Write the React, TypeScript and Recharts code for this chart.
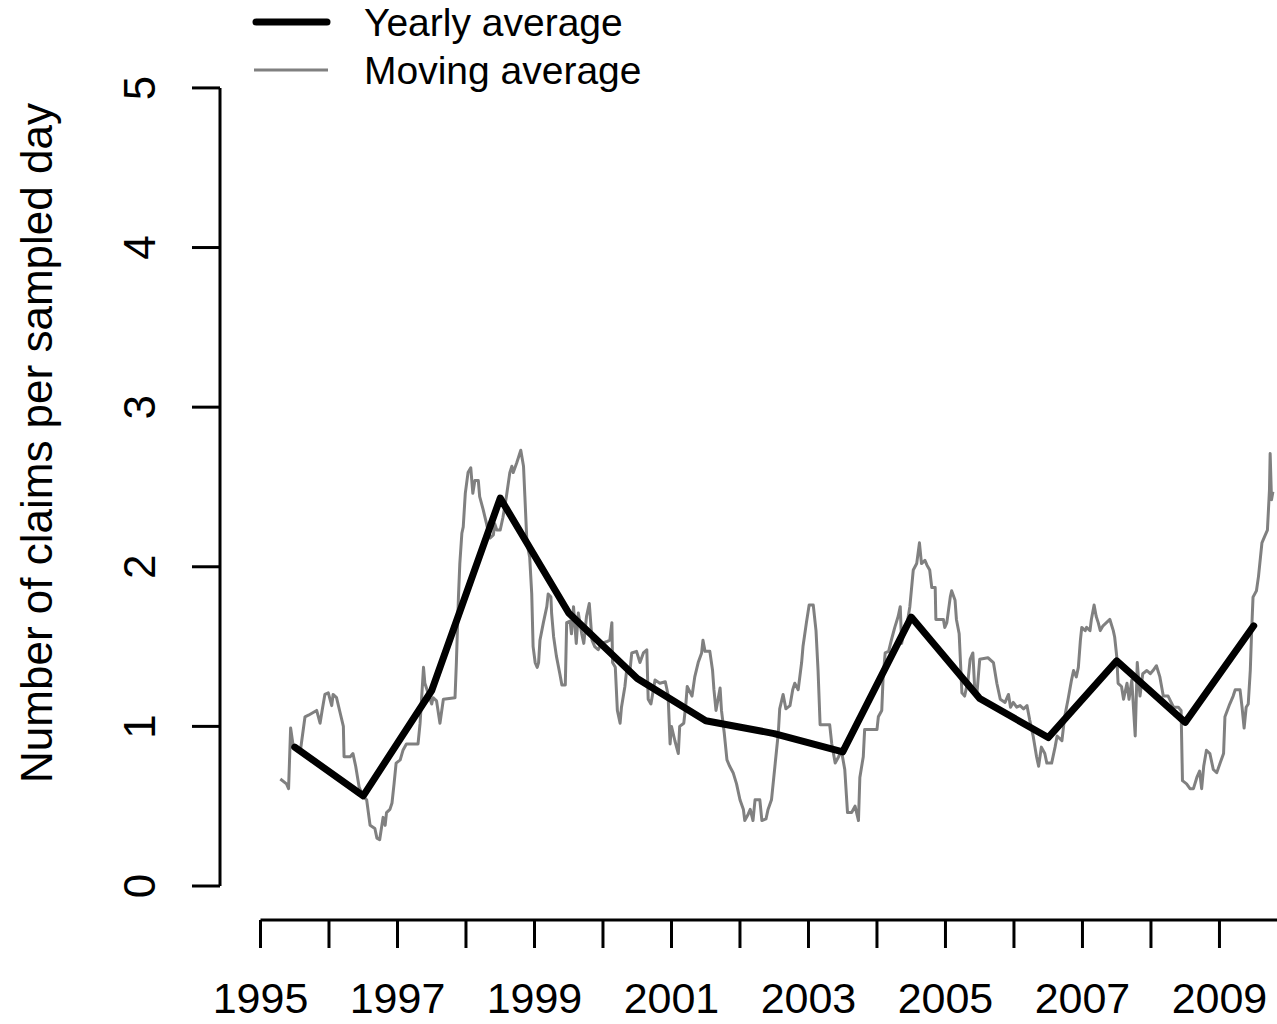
import React from 'react';
import { LineChart, Line, XAxis, YAxis, ReferenceLine, Customized } from 'recharts';

// yearly averages, plotted at mid-year
const yearlyYears = [1995.5, 1996.5, 1997.5, 1998.5, 1999.5, 2000.5, 2001.5, 2002.5, 2003.5, 2004.5, 2005.5, 2006.5, 2007.5, 2008.5, 2009.5];
const yearlyValues = [0.87, 0.565, 1.225, 2.43, 1.71, 1.3, 1.035, 0.955, 0.84, 1.685, 1.175, 0.93, 1.41, 1.025, 1.63];

// moving average as [year, value]
const movingAverage: [number, number][] = [
  [1995.29, 0.67], [1995.38, 0.64], [1995.41, 0.61], [1995.44, 0.99], [1995.48, 0.87], [1995.58, 0.84], [1995.65, 1.06], [1995.7, 1.07], [1995.82, 1.1], [1995.87, 1.02],
  [1995.9, 1.1], [1995.94, 1.2], [1995.99, 1.21], [1996.04, 1.13], [1996.06, 1.2], [1996.11, 1.18], [1996.16, 1.09], [1996.21, 1.0], [1996.22, 0.81], [1996.31, 0.81],
  [1996.35, 0.83], [1996.39, 0.75], [1996.44, 0.62], [1996.5, 0.56], [1996.55, 0.54], [1996.6, 0.38], [1996.67, 0.36], [1996.7, 0.3], [1996.74, 0.29], [1996.79, 0.43],
  [1996.82, 0.38], [1996.84, 0.46], [1996.89, 0.48], [1996.92, 0.52], [1996.95, 0.64], [1996.98, 0.77], [1997.04, 0.79], [1997.08, 0.85], [1997.13, 0.89], [1997.3, 0.89],
  [1997.33, 1.02], [1997.38, 1.37], [1997.4, 1.27], [1997.5, 1.14], [1997.52, 1.18], [1997.57, 1.16], [1997.62, 1.02], [1997.67, 1.17], [1997.84, 1.18], [1997.86, 1.4],
  [1997.89, 1.81], [1997.91, 2.02], [1997.94, 2.21], [1997.96, 2.25], [1997.99, 2.46], [1998.03, 2.59], [1998.07, 2.62], [1998.1, 2.46], [1998.13, 2.54], [1998.18, 2.54],
  [1998.2, 2.44], [1998.25, 2.36], [1998.3, 2.27], [1998.33, 2.21], [1998.35, 2.18], [1998.4, 2.2], [1998.42, 2.27], [1998.45, 2.23], [1998.5, 2.23], [1998.54, 2.31],
  [1998.59, 2.44], [1998.64, 2.59], [1998.67, 2.63], [1998.69, 2.59], [1998.74, 2.65], [1998.8, 2.73], [1998.84, 2.63], [1998.86, 2.44], [1998.89, 2.15], [1998.93, 2.06],
  [1998.96, 1.83], [1998.98, 1.5], [1999.01, 1.4], [1999.04, 1.37], [1999.06, 1.4], [1999.08, 1.54], [1999.13, 1.65], [1999.18, 1.75], [1999.2, 1.83], [1999.24, 1.81],
  [1999.25, 1.71], [1999.28, 1.56], [1999.32, 1.44], [1999.37, 1.33], [1999.4, 1.26], [1999.45, 1.26], [1999.47, 1.65], [1999.52, 1.66], [1999.54, 1.58], [1999.57, 1.75],
  [1999.61, 1.52], [1999.64, 1.71], [1999.69, 1.58], [1999.72, 1.52], [1999.76, 1.69], [1999.8, 1.77], [1999.84, 1.54], [1999.88, 1.5], [1999.93, 1.48], [1999.98, 1.52],
  [2000.05, 1.53], [2000.1, 1.54], [2000.13, 1.65], [2000.14, 1.4], [2000.18, 1.37], [2000.21, 1.1], [2000.25, 1.02], [2000.27, 1.12], [2000.32, 1.25], [2000.35, 1.37],
  [2000.39, 1.33], [2000.42, 1.46], [2000.49, 1.47], [2000.54, 1.4], [2000.59, 1.46], [2000.64, 1.48], [2000.66, 1.17], [2000.7, 1.14], [2000.76, 1.29], [2000.83, 1.27],
  [2000.91, 1.28], [2000.95, 1.2], [2000.98, 0.89], [2001.0, 1.0], [2001.05, 0.91], [2001.1, 0.83], [2001.12, 1.0], [2001.18, 1.02], [2001.21, 1.14], [2001.23, 1.25],
  [2001.3, 1.19], [2001.34, 1.31], [2001.39, 1.4], [2001.44, 1.46], [2001.46, 1.54], [2001.49, 1.47], [2001.56, 1.47], [2001.6, 1.35], [2001.62, 1.23], [2001.65, 1.1],
  [2001.68, 1.17], [2001.71, 1.24], [2001.73, 1.1], [2001.77, 0.96], [2001.81, 0.79], [2001.85, 0.75], [2001.9, 0.71], [2001.95, 0.64], [2002.0, 0.54], [2002.05, 0.48],
  [2002.07, 0.41], [2002.12, 0.45], [2002.15, 0.48], [2002.19, 0.41], [2002.22, 0.54], [2002.29, 0.54], [2002.32, 0.41], [2002.38, 0.42], [2002.41, 0.48], [2002.46, 0.54],
  [2002.51, 0.75], [2002.56, 0.96], [2002.58, 1.11], [2002.63, 1.2], [2002.67, 1.11], [2002.73, 1.13], [2002.77, 1.23], [2002.8, 1.27], [2002.85, 1.23], [2002.9, 1.4],
  [2002.92, 1.5], [2002.97, 1.65], [2003.01, 1.76], [2003.07, 1.76], [2003.11, 1.6], [2003.14, 1.35], [2003.17, 1.01], [2003.31, 1.01], [2003.34, 0.89], [2003.39, 0.77],
  [2003.44, 0.81], [2003.48, 0.85], [2003.53, 0.73], [2003.57, 0.46], [2003.63, 0.46], [2003.68, 0.5], [2003.73, 0.41], [2003.75, 0.68], [2003.8, 0.81], [2003.82, 0.98],
  [2004.0, 0.98], [2004.02, 1.06], [2004.07, 1.1], [2004.09, 1.31], [2004.12, 1.46], [2004.17, 1.47], [2004.21, 1.54], [2004.26, 1.62], [2004.31, 1.69], [2004.34, 1.75],
  [2004.36, 1.52], [2004.38, 1.56], [2004.43, 1.62], [2004.48, 1.75], [2004.53, 1.98], [2004.58, 2.02], [2004.62, 2.15], [2004.65, 2.02], [2004.7, 2.04], [2004.73, 2.01],
  [2004.77, 1.98], [2004.8, 1.87], [2004.85, 1.87], [2004.86, 1.67], [2004.97, 1.67], [2004.99, 1.62], [2005.02, 1.65], [2005.07, 1.81], [2005.09, 1.85], [2005.14, 1.79],
  [2005.16, 1.67], [2005.2, 1.58], [2005.24, 1.21], [2005.28, 1.19], [2005.33, 1.29], [2005.36, 1.42], [2005.4, 1.46], [2005.43, 1.21], [2005.46, 1.21], [2005.5, 1.42],
  [2005.62, 1.43], [2005.7, 1.4], [2005.75, 1.27], [2005.8, 1.17], [2005.87, 1.15], [2005.92, 1.2], [2005.95, 1.12], [2005.99, 1.15], [2006.04, 1.12], [2006.09, 1.13],
  [2006.14, 1.11], [2006.19, 1.13], [2006.23, 1.04], [2006.28, 0.94], [2006.33, 0.81], [2006.36, 0.75], [2006.4, 0.87], [2006.45, 0.83], [2006.48, 0.77], [2006.55, 0.77],
  [2006.6, 0.87], [2006.63, 0.94], [2006.7, 0.91], [2006.74, 1.06], [2006.79, 1.17], [2006.84, 1.29], [2006.87, 1.35], [2006.91, 1.31], [2006.94, 1.37], [2006.97, 1.54],
  [2006.99, 1.62], [2007.04, 1.6], [2007.06, 1.62], [2007.11, 1.6], [2007.13, 1.67], [2007.17, 1.76], [2007.2, 1.69], [2007.23, 1.65], [2007.26, 1.6], [2007.3, 1.63],
  [2007.35, 1.65], [2007.4, 1.67], [2007.45, 1.6], [2007.47, 1.56], [2007.5, 1.44], [2007.52, 1.27], [2007.57, 1.25], [2007.6, 1.17], [2007.65, 1.27], [2007.68, 1.17],
  [2007.72, 1.29], [2007.77, 0.94], [2007.8, 1.4], [2007.84, 1.19], [2007.88, 1.33], [2007.94, 1.35], [2007.99, 1.33], [2008.03, 1.35], [2008.08, 1.38], [2008.13, 1.31],
  [2008.18, 1.19], [2008.25, 1.19], [2008.33, 1.12], [2008.4, 1.12], [2008.44, 1.1], [2008.46, 0.66], [2008.52, 0.64], [2008.57, 0.61], [2008.62, 0.61], [2008.67, 0.68],
  [2008.71, 0.72], [2008.74, 0.61], [2008.77, 0.75], [2008.81, 0.85], [2008.86, 0.83], [2008.91, 0.73], [2008.96, 0.71], [2009.01, 0.77], [2009.06, 0.83], [2009.08, 1.06],
  [2009.15, 1.14], [2009.2, 1.19], [2009.23, 1.23], [2009.3, 1.23], [2009.33, 1.12], [2009.36, 0.99], [2009.39, 1.12], [2009.42, 1.14], [2009.45, 1.35], [2009.47, 1.6],
  [2009.49, 1.81], [2009.54, 1.85], [2009.57, 1.94], [2009.62, 2.15], [2009.66, 2.19], [2009.7, 2.23], [2009.73, 2.48], [2009.74, 2.71], [2009.76, 2.42], [2009.78, 2.47],
];

const xTicks = [1995, 1996, 1997, 1998, 1999, 2000, 2001, 2002, 2003, 2004, 2005, 2006, 2007, 2008, 2009];
const yTicks = [0, 1, 2, 3, 4, 5];
const legendLabels = ['Yearly average', 'Moving average'];
const yTitle = 'Number of claims per sampled day';

const X_MIN = 1994.409;
const X_MAX = 2009.84;
const Y_MIN = -0.213;
const Y_MAX = 5.2;

const FONT = '"Liberation Sans", Arial, Helvetica, sans-serif';

const yearlyRows = yearlyYears.map((x, i) => ({ x, v: yearlyValues[i] }));
const movingRows = movingAverage.map(([x, v]) => ({ x, v }));

const XTick = (props: any) => {
  const { x, y, payload } = props;
  if (payload.value % 2 === 0) return null;
  return (
    <text x={x} y={y + 65} textAnchor="middle" fontSize={43} fontFamily={FONT} fill="#000">
      {payload.value}
    </text>
  );
};

const YTick = (props: any) => {
  const { x, y, payload } = props;
  return (
    <text
      x={x}
      y={y}
      transform={`rotate(-90, ${x}, ${y})`}
      textAnchor="middle"
      fontSize={44}
      fontFamily={FONT}
      fill="#000"
    >
      {payload.value}
    </text>
  );
};

const Decor = () => (
  <g>
    <text
      x={52}
      y={443}
      transform="rotate(-90, 52, 443)"
      textAnchor="middle"
      fontSize={44}
      fontFamily={FONT}
      fill="#000"
    >
      {yTitle}
    </text>
    <line x1={256} y1={22} x2={327} y2={22} stroke="#000" strokeWidth={7} strokeLinecap="round" />
    <line x1={254} y1={70} x2={328} y2={70} stroke="#808080" strokeWidth={3} />
    <text x={364} y={36} fontSize={39} fontFamily={FONT} fill="#000">{legendLabels[0]}</text>
    <text x={364} y={84} fontSize={39} fontFamily={FONT} fill="#000">{legendLabels[1]}</text>
  </g>
);

export default function App() {
  return (
    <div style={{ position: 'absolute', left: 0, top: 0, width: 1277, height: 1024, background: '#fff' }}>
      <LineChart width={1277} height={1024} margin={{ top: 56, right: 0, bottom: 0, left: 0 }}>
        <XAxis
          type="number"
          dataKey="x"
          domain={[X_MIN, X_MAX]}
          allowDataOverflow
          ticks={xTicks}
          interval={0}
          height={104}
          tickSize={28}
          tickMargin={0}
          axisLine={false}
          tickLine={{ stroke: '#000', strokeWidth: 3 }}
          tick={<XTick />}
        />
        <YAxis
          type="number"
          dataKey="v"
          domain={[Y_MIN, Y_MAX]}
          allowDataOverflow
          ticks={yTicks}
          interval={0}
          width={220}
          tickSize={28}
          tickMargin={37}
          axisLine={false}
          tickLine={{ stroke: '#000', strokeWidth: 3 }}
          tick={<YTick />}
        />
        <ReferenceLine
          segment={[{ x: 1995, y: Y_MIN }, { x: X_MAX, y: Y_MIN }]}
          stroke="#000"
          strokeWidth={3}
          ifOverflow="visible"
        />
        <ReferenceLine
          segment={[{ x: X_MIN, y: 0 }, { x: X_MIN, y: 5 }]}
          stroke="#000"
          strokeWidth={3}
          ifOverflow="visible"
        />
        <Line
          data={movingRows}
          dataKey="v"
          type="linear"
          stroke="#808080"
          strokeWidth={3}
          dot={false}
          activeDot={false}
          isAnimationActive={false}
          strokeLinejoin="round"
        />
        <Line
          data={yearlyRows}
          dataKey="v"
          type="linear"
          stroke="#000"
          strokeWidth={7}
          dot={false}
          activeDot={false}
          isAnimationActive={false}
          strokeLinejoin="round"
          strokeLinecap="round"
        />
        <Customized component={Decor} />
      </LineChart>
    </div>
  );
}
